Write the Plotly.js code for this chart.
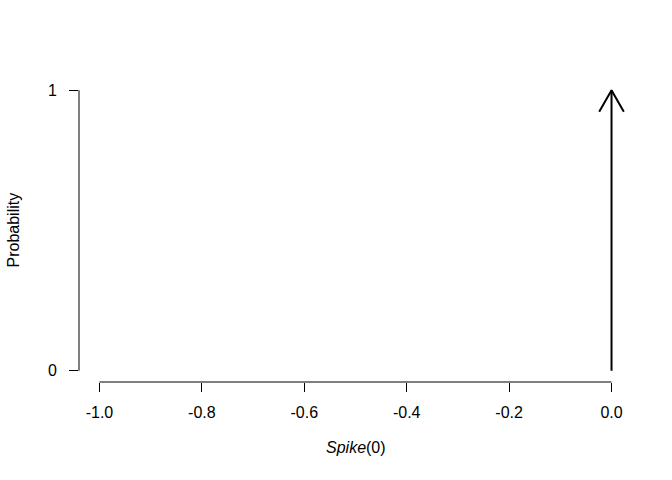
<!DOCTYPE html>
<html>
<head>
<meta charset="utf-8">
<script src="https://cdn.plot.ly/plotly-3.0.1.min.js"></script>
<style>html,body{margin:0;padding:0;background:#fff;}#chart{width:672px;height:480px;}</style>
</head>
<body>
<div id="chart"></div>
<script>
// Data
const spikeX = [0];
const spikeProb = [1];
const xTicks = [-1.0, -0.8, -0.6, -0.4, -0.2, 0.0];
const xTickLabels = ["-1.0", "-0.8", "-0.6", "-0.4", "-0.2", "0.0"];
const yTicks = [0, 1];
const yTickLabels = ["0", "1"];

const W = 672, H = 480;
const margin = {l: 79, r: 40, t: 79, b: 98};
const xRange = [-1.04, 0.04];
const yRange = [-0.04, 1.04];
const pxX = (W - margin.l - margin.r) / (xRange[1] - xRange[0]);
const pxY = (H - margin.t - margin.b) / (yRange[1] - yRange[0]);

const traces = [];
spikeX.forEach((x, i) => {
  const p = spikeProb[i];
  traces.push({x: [x, x], y: [0, p], mode: 'lines', type: 'scatter',
    line: {color: 'black', width: 2}, hoverinfo: 'skip', showlegend: false});
  // open arrow head, 30 deg, ~25px long
  const hx = 12.3 / pxX, hy = 21.6 / pxY;
  traces.push({x: [x - hx, x, x + hx], y: [p - hy, p, p - hy], mode: 'lines', type: 'scatter',
    line: {color: 'black', width: 2}, hoverinfo: 'skip', showlegend: false});
});

const font = {family: 'Liberation Sans, Arial, sans-serif', size: 16, color: 'black'};
const layout = {
  width: W, height: H, margin: margin,
  paper_bgcolor: 'white', plot_bgcolor: 'white',
  font: font, showlegend: false,
  xaxis: {range: xRange, showgrid: false, zeroline: false, showline: false,
    tickmode: 'array', tickvals: xTicks, ticktext: xTickLabels,
    ticks: 'outside', ticklen: 9, tickwidth: 1, tickcolor: 'black',
    ticklabelstandoff: 7, tickfont: font, fixedrange: true},
  yaxis: {range: yRange, showgrid: false, zeroline: false, showline: false,
    tickmode: 'array', tickvals: yTicks, ticktext: yTickLabels,
    ticks: 'outside', ticklen: 9, tickwidth: 1, tickcolor: 'black',
    ticklabelstandoff: 9, tickfont: font, fixedrange: true},
  shapes: [
    {type: 'line', xref: 'x', yref: 'paper', x0: xTicks[0], x1: xTicks[xTicks.length - 1], y0: 0, y1: 0,
      line: {color: 'black', width: 1}},
    {type: 'line', xref: 'paper', yref: 'y', x0: 0, x1: 0, y0: yTicks[0], y1: yTicks[yTicks.length - 1],
      line: {color: 'black', width: 1}}
  ],
  annotations: [
    {text: '<i>Spike</i>(0)', xref: 'paper', yref: 'paper', x: 0.5, y: 0, xanchor: 'center', yanchor: 'middle',
      yshift: -65, showarrow: false, font: font},
    {text: 'Probability', xref: 'paper', yref: 'paper', x: 0, y: 0.5, xanchor: 'center', yanchor: 'middle',
      xshift: -66, textangle: -90, showarrow: false, font: font}
  ]
};

Plotly.newPlot('chart', traces, layout, {displayModeBar: false, staticPlot: true});
</script>
</body>
</html>
